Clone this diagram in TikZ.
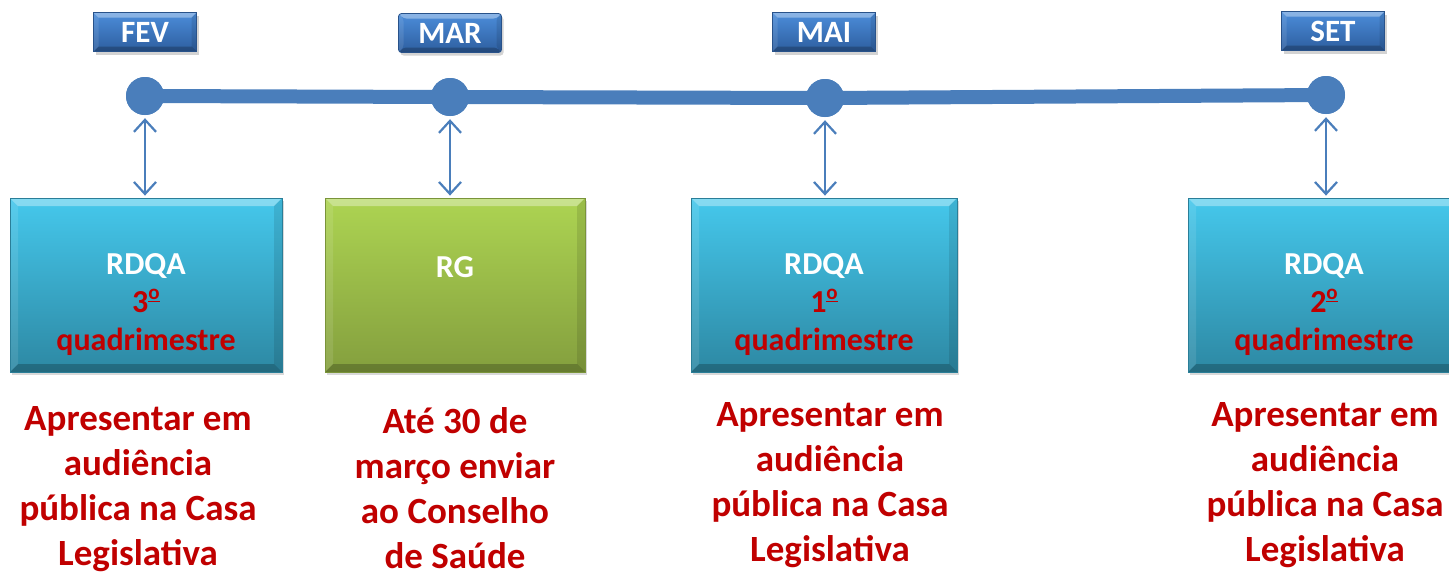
\documentclass[tikz,border=0pt]{standalone}
\usepackage{fontspec}
\setmainfont{Carlito}
\usetikzlibrary{arrows.meta,positioning,calc,shadows}
\definecolor{tline}{HTML}{4A7EBB}
\definecolor{montop}{HTML}{4C8DDA}
\definecolor{monbot}{HTML}{2D5E9F}
\definecolor{monedge}{HTML}{28528A}
\definecolor{rdqtop}{HTML}{45C8EC}
\definecolor{rdqbot}{HTML}{2D88A3}
\definecolor{rdqedge}{HTML}{2A7E98}
\definecolor{rgtop}{HTML}{ADD452}
\definecolor{rgbot}{HTML}{849F3E}
\definecolor{rgedge}{HTML}{7A943A}
\definecolor{dred}{HTML}{C00000}
% ordinal mark with its bar, as the slide font draws it
\newcommand{\ordm}{\raisebox{0.85ex}{\fontsize{21}{21}\selectfont\underline{o}}}

\begin{document}
\begin{tikzpicture}[
  x=1pt, y=-1pt,
  font=\bfseries,
  bevel/.style={path picture={
      \fill[white, opacity=0.35] (path picture bounding box.north west) -- (path picture bounding box.north east)
        -- ++(-#1,-#1) -- ($(path picture bounding box.north west)+(#1,-#1)$) -- cycle;
      \fill[black, opacity=0.22] (path picture bounding box.south west) -- (path picture bounding box.south east)
        -- ++(-#1,#1) -- ($(path picture bounding box.south west)+(#1,#1)$) -- cycle;
      \fill[black, opacity=0.10] (path picture bounding box.north east) -- (path picture bounding box.south east)
        -- ++(-#1,#1) -- ($(path picture bounding box.north east)+(-#1,-#1)$) -- cycle;
      \fill[white, opacity=0.10] (path picture bounding box.north west) -- (path picture bounding box.south west)
        -- ++(#1,#1) -- ($(path picture bounding box.north west)+(#1,-#1)$) -- cycle;}},
  month/.style={rectangle, draw=monedge, line width=0.8pt, top color=montop, bottom color=monbot,
                minimum width=103pt, minimum height=39pt, inner sep=0pt, text=white, bevel=5pt,
                font=\bfseries\fontsize{31}{31}\selectfont,
                drop shadow={shadow xshift=2pt, shadow yshift=-3pt, opacity=0.35}},
  dot/.style={circle, fill=tline, minimum size=38pt, inner sep=0pt},
  box/.style={rectangle, line width=0.8pt, minimum height=174pt, inner sep=0pt, bevel=8pt,
              drop shadow={shadow xshift=2pt, shadow yshift=-3pt, opacity=0.3}},
  rdqa/.style={box, draw=rdqedge, top color=rdqtop, bottom color=rdqbot},
  rg/.style={box, draw=rgedge, top color=rgtop, bottom color=rgbot},
  boxtxt/.style={align=center, text=white, font=\bfseries\fontsize{32}{38}\selectfont},
  note/.style={align=center, text=dred, font=\bfseries\fontsize{37}{45}\selectfont},
  link/.style={{Straight Barb[length=12pt,width=22pt]}-{Straight Barb[length=12pt,width=22pt]},
               draw=tline, line width=2.2pt, shorten <=3pt, shorten >=2pt},
]
\useasboundingbox (0,0) rectangle (1449,573);

% ---- month tags ----
\node[month] (fev) at (145,32) {FEV};
\node[month, rounded corners=3pt] (mar) at (450,33) {MAR};
\node[month] (mai) at (824,32) {MAI};
\node[month] (set) at (1333,31) {SET};

% ---- timeline ----
\node[dot] (d1) at (145,96) {};
\node[dot] (d2) at (450,97) {};
\node[dot] (d3) at (825,98) {};
\node[dot] (d4) at (1326,95) {};
\draw[tline, line width=14pt] (d1.center) -- (d2.center) -- (d3.center) -- (d4.center);
\foreach \d in {d1,d2,d3,d4} \node[dot] at (\d) {};

% ---- report boxes ----
\node[rdqa, minimum width=272pt] (b1) at (146,285) {};
\node[rg,   minimum width=260pt] (b2) at (455,285) {};
\node[rdqa, minimum width=266pt] (b3) at (824,285) {};
\node[rdqa, minimum width=272pt] (b4) at (1324,285) {};

\node[boxtxt] (t1) at ($(b1.center)+(0,20)$) {RDQA\\{\color{dred}3\ordm}\\{\color{dred}quadrimestre}};
\node[boxtxt] (t2) at ($(b2.center)+(0,-18)$) {RG};
\node[boxtxt] (t3) at ($(b3.center)+(0,20)$) {RDQA\\{\color{dred}1\ordm}\\{\color{dred}quadrimestre}};
\node[boxtxt] (t4) at ($(b4.center)+(0,20)$) {RDQA\\{\color{dred}2\ordm}\\{\color{dred}quadrimestre}};

% ---- links dot <-> box ----
\draw[link] (d1.south) -- (d1.south |- b1.north);
\draw[link] (d2.south) -- (d2.south |- b2.north);
\draw[link] (d3.south) -- (d3.south |- b3.north);
\draw[link] (d4.south) -- (d4.south |- b4.north);

% ---- deadlines ----
\node[note] (n1) at (138,489) {Apresentar em\\audiência\\pública na Casa\\Legislativa};
\node[note] (n2) at (455,488) {Até 30 de\\março enviar\\ao Conselho\\de Saúde};
\node[note] (n3) at (830,485) {Apresentar em\\audiência\\pública na Casa\\Legislativa};
\node[note] (n4) at (1325,485) {Apresentar em\\audiência\\pública na Casa\\Legislativa};
\end{tikzpicture}
\end{document}
